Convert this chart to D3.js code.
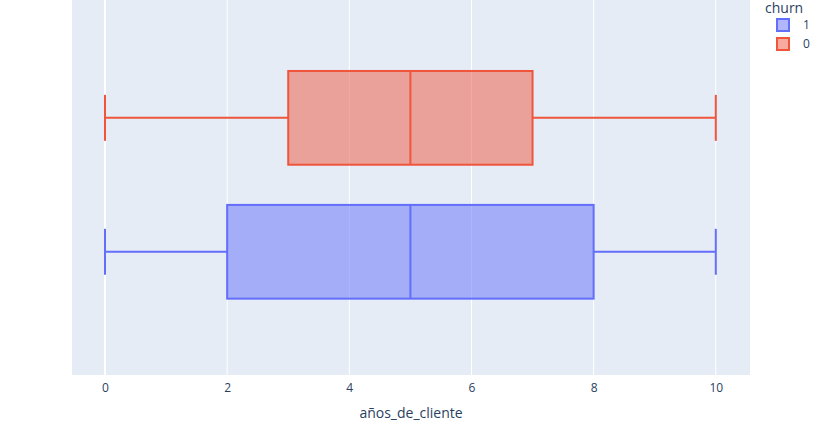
<!DOCTYPE html>
<html><head><meta charset="utf-8">
<script src="https://cdn.jsdelivr.net/npm/d3@7"></script>
<style>body{margin:0;background:#fff}text{font-family:"Open Sans",sans-serif;fill:#2a3f5f}</style>
</head><body><svg id="c" width="819" height="430"></svg>
<script>
const categories=["1","0"];
const catIndex=[1,0];
const mins=[0,0], q1s=[2,3], medians=[5,5], q3s=[8,7], maxs=[10,10];
const colors=["#636efa","#EF553B"];
const xTicks=[0,2,4,6,8,10];
const svg=d3.select("#c");
const L=72,R=750,T=0,B=375;
const x=d3.scaleLinear().domain([-0.54,10.56]).range([L,R]);
const y=d3.scaleLinear().domain([-0.88,1.92]).range([T,B]);
svg.append("rect").attr("x",L).attr("y",T).attr("width",R-L).attr("height",B-T).attr("fill","#e5ecf6");
const ax=svg.append("g").attr("transform",`translate(0,${B})`).call(d3.axisBottom(x).tickValues(xTicks).tickSize(0).tickPadding(8).tickFormat(d3.format("d")));
ax.select(".domain").remove();
ax.selectAll("text").style("font-size","12px").attr("fill","#2a3f5f");
svg.append("g").selectAll("line").data(xTicks).join("line").attr("x1",d=>x(d)).attr("x2",d=>x(d)).attr("y1",T).attr("y2",B).attr("stroke","#fff").attr("stroke-width",d=>d===0?2:1);
svg.append("text").attr("x",(L+R)/2).attr("y",418).attr("text-anchor","middle").style("font-size","14px").text("años_de_cliente");
const bw=y(0.35)-y(-0.35), cw=bw*0.49;
categories.forEach((c,i)=>{
  const cy=y(catIndex[i]), col=colors[i];
  const g=svg.append("g").attr("stroke",col).attr("stroke-width",2).attr("fill","none");
  g.append("line").attr("x1",x(mins[i])).attr("x2",x(q1s[i])).attr("y1",cy).attr("y2",cy);
  g.append("line").attr("x1",x(q3s[i])).attr("x2",x(maxs[i])).attr("y1",cy).attr("y2",cy);
  [mins[i],maxs[i]].forEach(v=>g.append("line").attr("x1",x(v)).attr("x2",x(v)).attr("y1",cy-cw/2).attr("y2",cy+cw/2));
  g.append("rect").attr("x",x(q1s[i])).attr("y",cy-bw/2).attr("width",x(q3s[i])-x(q1s[i])).attr("height",bw).attr("fill",col).attr("fill-opacity",0.5);
  g.append("line").attr("x1",x(medians[i])).attr("x2",x(medians[i])).attr("y1",cy-bw/2).attr("y2",cy+bw/2);
});
svg.append("text").attr("x",765).attr("y",13).style("font-size","14px").text("churn");
categories.forEach((c,i)=>{
  const yy=25+i*19;
  svg.append("rect").attr("x",777).attr("y",yy-6).attr("width",12).attr("height",12).attr("fill",colors[i]).attr("fill-opacity",0.5).attr("stroke",colors[i]).attr("stroke-width",2);
  svg.append("text").attr("x",803).attr("y",yy+4).style("font-size","12px").text(c);
});
</script></body></html>
